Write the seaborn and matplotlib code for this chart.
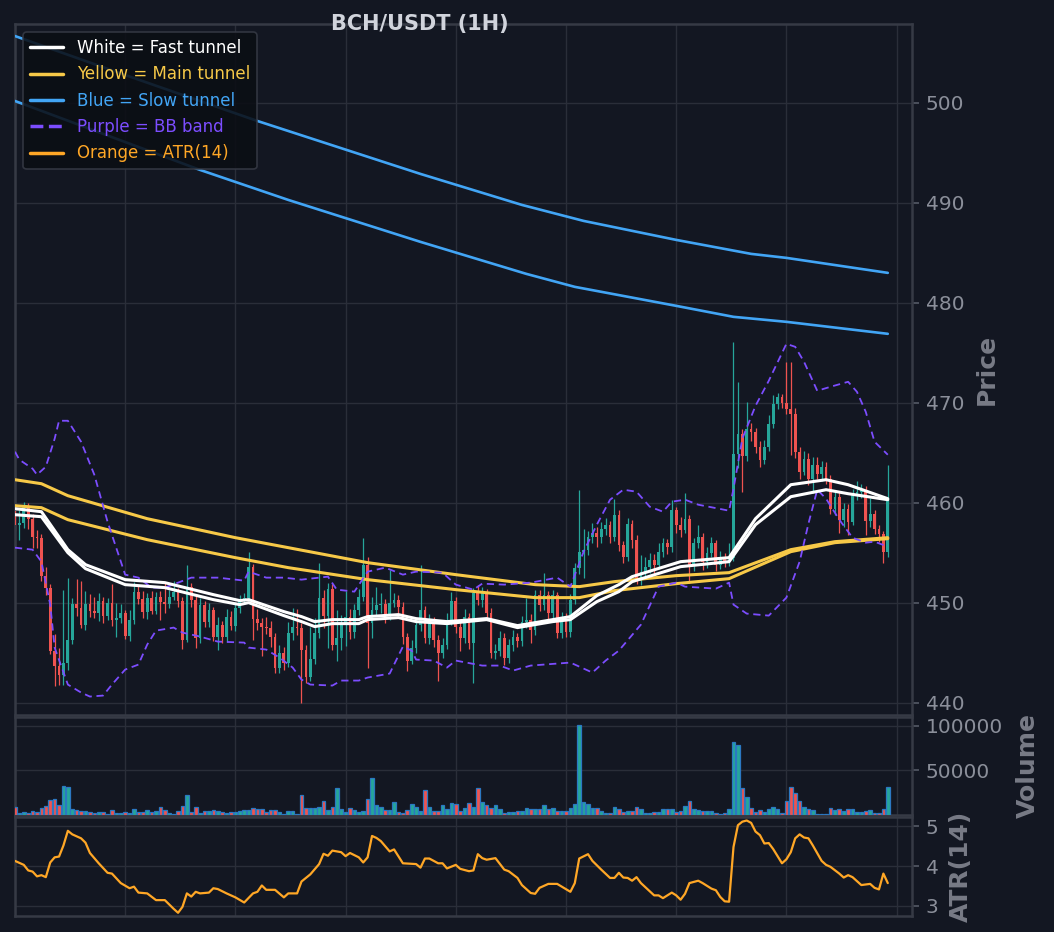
import matplotlib
matplotlib.use("Agg")
import matplotlib.pyplot as plt
from matplotlib.lines import Line2D
import seaborn as sns

# ---- data (hourly candles, index 0..198) ----
first_open = 459.2
close = [
    457.8, 458.0, 459.6, 458.4, 456.6, 456.5, 452.7, 451.5, 445.2, 443.7,
    442.8, 444.0, 446.3, 449.9, 449.5, 447.8, 449.9, 449.2, 449.0, 450.2,
    448.7, 450.0, 448.3, 448.5, 449.0, 446.7, 448.3, 451.1, 450.4, 449.1,
    450.5, 449.2, 450.6, 450.1, 449.9, 450.6, 451.1, 450.2, 446.3, 451.6,
    450.3, 446.5, 449.8, 448.1, 449.3, 446.6, 447.8, 446.6, 448.6, 447.7,
    449.5, 450.3, 450.5, 453.6, 448.4, 448.0, 447.6, 447.5, 446.6, 443.5,
    445.0, 444.0, 447.0, 447.6, 447.5, 445.3, 442.6, 444.4, 447.0, 450.5,
    448.7, 451.4, 445.8, 446.5, 448.0, 448.6, 447.1, 449.3, 450.6, 453.8,
    448.0, 449.3, 449.8, 449.9, 448.8, 450.0, 450.3, 449.6, 446.6, 444.2,
    445.5, 447.8, 449.3, 446.5, 448.1, 446.3, 445.0, 445.8, 448.3, 450.2,
    447.6, 446.5, 448.6, 446.0, 451.0, 450.3, 451.0, 449.0, 445.0, 445.2,
    446.5, 444.5, 445.8, 446.6, 446.2, 448.1, 448.3, 447.3, 450.8, 449.8,
    450.8, 449.0, 450.8, 447.0, 448.5, 447.1, 450.3, 453.5, 455.1, 455.3,
    456.6, 457.0, 456.6, 457.4, 457.8, 456.6, 458.8, 455.8, 454.6, 457.9,
    456.3, 452.5, 453.1, 453.6, 454.3, 453.8, 455.1, 456.0, 455.6, 459.3,
    457.8, 457.3, 458.4, 453.8, 456.0, 456.6, 454.1, 455.0, 456.0, 453.8,
    454.6, 454.0, 454.5, 464.9, 466.9, 464.7, 467.4, 467.1, 465.6, 464.3,
    465.6, 467.9, 469.9, 470.6, 470.0, 469.4, 468.9, 465.1, 463.1, 464.4,
    462.4, 463.8, 462.9, 463.6, 462.4, 459.4, 460.6, 458.3, 459.4, 458.1,
    460.8, 461.1, 461.3, 458.2, 458.9, 457.4, 456.9, 455.1, 460.3,
]
high = [
    459.8, 459.3, 460.1, 460.0, 458.9, 457.3, 456.9, 453.6, 451.9, 446.9,
    445.5, 451.3, 452.5, 450.5, 452.4, 452.2, 451.2, 450.9, 450.6, 451.0,
    450.6, 450.5, 451.9, 450.0, 449.9, 449.3, 449.3, 452.1, 451.7, 451.2,
    451.0, 451.2, 451.1, 451.2, 452.1, 451.3, 452.2, 451.5, 450.6, 453.8,
    452.0, 450.7, 450.5, 450.2, 450.0, 449.6, 448.6, 448.2, 449.4, 449.2,
    450.0, 450.8, 451.0, 455.1, 453.9, 449.4, 448.5, 448.6, 448.2, 447.0,
    445.8, 445.6, 448.1, 449.5, 449.4, 448.0, 445.8, 447.6, 448.5, 454.0,
    451.3, 452.0, 451.9, 449.3, 448.8, 451.2, 449.4, 449.9, 451.4, 456.5,
    454.6, 450.6, 451.6, 451.0, 450.4, 453.3, 451.0, 450.8, 450.1, 447.0,
    446.3, 448.5, 453.8, 449.7, 448.9, 448.6, 446.8, 446.5, 449.0, 451.1,
    450.6, 448.2, 449.4, 449.0, 451.5, 451.8, 451.6, 451.4, 449.5, 445.9,
    447.2, 447.0, 446.4, 447.3, 447.0, 448.7, 450.5, 448.9, 451.3, 451.3,
    453.0, 451.2, 451.3, 451.1, 449.1, 449.0, 450.9, 454.0, 461.3, 457.4,
    457.2, 458.0, 457.6, 458.1, 458.5, 458.2, 460.4, 459.3, 456.2, 458.5,
    458.3, 456.8, 454.8, 454.6, 455.0, 454.9, 456.0, 456.5, 456.4, 460.3,
    459.6, 458.6, 461.0, 458.8, 456.5, 457.8, 457.0, 455.6, 456.6, 456.3,
    455.2, 455.0, 456.0, 476.1, 472.1, 467.4, 470.1, 468.0, 467.5, 466.2,
    466.3, 468.8, 470.8, 471.0, 470.9, 474.1, 474.1, 469.5, 465.6, 465.2,
    465.0, 464.6, 464.6, 464.2, 464.1, 462.8, 461.3, 461.2, 460.0, 459.9,
    461.4, 462.2, 461.9, 461.7, 460.5, 459.3, 457.8, 457.2, 463.8,
]
low = [
    457.2, 456.3, 457.5, 457.4, 455.5, 455.5, 452.2, 450.8, 444.9, 441.7,
    441.8, 441.8, 443.3, 445.9, 448.7, 447.5, 447.3, 448.6, 448.5, 448.2,
    448.0, 448.3, 447.7, 446.6, 448.0, 446.4, 446.2, 447.9, 449.9, 448.5,
    448.4, 448.9, 448.9, 448.3, 449.0, 449.5, 450.3, 449.6, 445.4, 446.1,
    449.6, 445.5, 446.0, 447.6, 447.6, 446.2, 445.3, 446.0, 446.1, 447.3,
    447.2, 449.0, 449.9, 450.2, 446.3, 447.3, 444.7, 446.9, 445.6, 443.0,
    443.0, 443.3, 443.6, 446.3, 446.8, 440.0, 442.0, 442.2, 443.9, 446.5,
    447.5, 445.5, 445.3, 444.2, 445.3, 445.7, 446.4, 446.5, 448.8, 450.2,
    443.5, 446.5, 448.7, 449.0, 448.0, 448.3, 449.6, 449.0, 445.9, 443.2,
    443.9, 445.0, 447.2, 446.0, 445.9, 445.6, 442.2, 444.5, 445.4, 447.8,
    447.0, 445.2, 446.0, 445.4, 442.0, 449.8, 449.6, 448.5, 444.5, 444.4,
    444.7, 443.8, 444.0, 445.2, 445.6, 445.7, 447.5, 446.0, 446.8, 449.2,
    449.3, 448.3, 448.4, 446.5, 446.5, 446.6, 446.6, 449.9, 452.9, 452.5,
    454.8, 456.0, 455.6, 456.0, 456.8, 456.0, 456.2, 455.2, 454.0, 454.2,
    455.5, 451.9, 451.8, 452.6, 453.0, 453.0, 453.4, 454.6, 454.9, 455.1,
    457.0, 456.6, 457.0, 452.0, 453.2, 455.5, 453.3, 453.5, 454.6, 453.2,
    453.4, 453.6, 453.7, 454.2, 463.5, 461.1, 464.2, 466.2, 465.0, 463.6,
    463.9, 465.2, 467.5, 469.4, 469.5, 468.9, 464.8, 464.5, 462.4, 462.8,
    461.8, 461.0, 462.4, 462.2, 461.9, 458.9, 458.8, 457.0, 457.6, 456.8,
    457.8, 460.3, 460.5, 456.8, 457.6, 456.9, 456.1, 454.0, 454.6,
]
volume = [
    9250, 3000, 3700, 3000, 4800, 3700, 7800, 10400, 17000, 18100,
    11100, 32600, 31500, 7000, 5900, 5200, 5200, 3700, 2600, 3700,
    3700, 1500, 5900, 3000, 3000, 3700, 2200, 7000, 3300, 3300,
    5900, 3700, 5200, 9250, 5500, 2200, 1100, 4400, 10400, 22600,
    4100, 9250, 2200, 4400, 4400, 5500, 4800, 3300, 3000, 3300,
    3300, 4400, 5500, 5900, 8500, 6700, 6700, 3300, 5900, 5900,
    3300, 1800, 4800, 4800, 1800, 22600, 8500, 8500, 8500, 9600,
    15900, 5900, 9600, 30700, 7400, 3700, 8500, 5900, 3700, 4800,
    18500, 41800, 11500, 9600, 5900, 5900, 14800, 3700, 2600, 5900,
    12900, 9600, 4800, 28100, 9600, 4800, 4800, 11500, 7400, 13700,
    12200, 4800, 7800, 13300, 9600, 30700, 14800, 11500, 7800, 11500,
    6700, 3000, 3700, 3700, 4800, 4800, 7800, 6700, 7400, 6700,
    11500, 6700, 8500, 4800, 4800, 4800, 8000, 12900, 100300, 14800,
    12900, 8500, 8500, 4800, 3000, 3000, 9600, 7400, 3700, 4800,
    4800, 9600, 6700, 3000, 3000, 3700, 3700, 6700, 7400, 7400,
    3700, 4800, 10400, 15900, 7400, 5900, 4800, 4800, 4800, 2200,
    1800, 2200, 7400, 81800, 78100, 30000, 20400, 7800, 4100, 5500,
    4100, 6700, 9250, 6700, 3000, 15900, 31500, 24800, 15900, 9250,
    6700, 5500, 1800, 1800, 1800, 7800, 5500, 7400, 4800, 7400,
    7400, 3300, 3300, 4400, 5500, 3000, 3000, 7400, 31500,
]

atr_idx = [
    0, 2, 3, 4, 5, 6, 7, 8, 9, 10, 11, 12, 13, 15, 16, 17, 19, 21, 22, 24,
    26, 27, 28, 30, 32, 34, 36, 37, 38, 39, 40, 41, 42, 44, 45, 46, 48, 50, 52, 54,
    55, 56, 57, 59, 61, 62, 64, 65, 67, 69, 70, 71, 72, 74, 75, 76, 78, 79, 80, 81,
    82, 83, 85, 86, 88, 91, 92, 93, 94, 96, 97, 98, 100, 101, 103, 104, 105, 106, 107, 109,
    111, 112, 114, 115, 117, 118, 119, 121, 123, 126, 127, 128, 130, 131, 133, 135, 136, 137, 138, 139,
    140, 141, 142, 145, 146, 147, 149, 150, 151, 152, 153, 155, 156, 158, 159, 160, 161, 162, 163, 164,
    165, 166, 167, 168, 169, 170, 171, 172, 174, 175, 176, 177, 178, 179, 180, 181, 183, 184, 185, 187,
    188, 189, 190, 192, 194, 195, 196, 197, 198,
]
atr_val = [
    4.13, 4.03, 3.89, 3.86, 3.74, 3.77, 3.72, 4.09, 4.22, 4.24, 4.52, 4.89, 4.80, 4.70, 4.59, 4.33, 4.07, 3.83, 3.81, 3.57,
    3.44, 3.48, 3.33, 3.31, 3.14, 3.14, 2.92, 2.82, 2.97, 3.31, 3.23, 3.35, 3.31, 3.33, 3.44, 3.42, 3.31, 3.21, 3.08, 3.31,
    3.35, 3.51, 3.40, 3.40, 3.21, 3.31, 3.31, 3.61, 3.79, 4.05, 4.31, 4.26, 4.39, 4.35, 4.25, 4.33, 4.22, 4.09, 4.22, 4.76,
    4.71, 4.63, 4.37, 4.42, 4.07, 4.05, 3.96, 4.19, 4.19, 4.07, 4.07, 3.94, 4.03, 3.93, 3.87, 3.89, 4.30, 4.20, 4.16, 4.20,
    3.91, 3.87, 3.70, 3.52, 3.32, 3.30, 3.45, 3.55, 3.55, 3.35, 3.57, 4.19, 4.30, 4.13, 3.91, 3.70, 3.70, 3.83, 3.71, 3.70,
    3.63, 3.72, 3.57, 3.26, 3.26, 3.19, 3.33, 3.26, 3.15, 3.30, 3.57, 3.63, 3.57, 3.43, 3.39, 3.22, 3.11, 3.10, 4.48, 5.03,
    5.12, 5.15, 5.09, 4.87, 4.78, 4.57, 4.58, 4.43, 4.07, 4.17, 4.35, 4.70, 4.80, 4.72, 4.70, 4.52, 4.13, 4.03, 3.98, 3.81,
    3.71, 3.77, 3.72, 3.52, 3.55, 3.45, 3.41, 3.81, 3.57,
]

fast_idx = [0, 6, 12, 16, 25, 34, 45, 51, 53, 61, 65, 68, 72, 78, 80, 87, 91, 98, 107, 114,
            122, 126, 132, 137, 140, 151, 162, 168, 176, 184, 189, 198]
fast_hi = [459.4, 459.1, 455.3, 453.8, 452.3, 452.0, 450.8, 450.2, 450.3, 449.1, 448.6, 448.1,
           448.3, 448.3, 448.6, 448.8, 448.4, 448.1, 448.4, 447.7, 448.3, 448.6, 450.7, 451.8,
           452.6, 454.1, 454.5, 458.4, 461.8, 462.3, 461.8, 460.4]
fast_lo = [458.8, 458.6, 455.0, 453.4, 451.8, 451.5, 450.3, 449.8, 450.0, 448.7, 448.1, 447.6,
           447.9, 447.9, 448.3, 448.5, 448.1, 447.9, 448.3, 447.5, 448.1, 448.3, 450.1, 451.1,
           452.1, 453.6, 454.1, 457.8, 460.6, 461.3, 460.9, 460.3]

main_idx = [0, 6, 12, 30, 50, 62, 80, 100, 118, 128, 136, 150, 162, 176, 186, 198]
main_hi = [462.3, 461.9, 460.7, 458.4, 456.5, 455.5, 454.0, 452.8, 451.8, 451.6, 452.1, 452.7,
           453.0, 455.3, 456.1, 456.5]
main_lo = [459.7, 459.5, 458.3, 456.3, 454.5, 453.5, 452.3, 451.3, 450.5, 450.5, 451.2, 451.9,
           452.4, 455.1, 456.0, 456.4]

slow_hi_idx = [0, 25, 55, 92, 115, 129, 150, 167, 175, 198]
slow_hi = [506.7, 502.8, 498.2, 492.9, 489.8, 488.2, 486.3, 484.9, 484.5, 483.0]
slow_lo_idx = [0, 42, 62, 92, 116, 127, 150, 163, 175, 198]
slow_lo = [500.2, 493.3, 490.3, 486.1, 482.9, 481.6, 479.7, 478.6, 478.1, 476.9]

bb_up_idx = [0, 1, 4, 5, 7, 9, 10, 12, 15, 18, 21, 25, 28, 31, 34, 40, 46, 52, 53, 57,
             61, 65, 69, 71, 73, 77, 80, 84, 88, 91, 97, 100, 104, 106, 111, 117, 123, 126, 129, 132,
             135, 138, 141, 144, 147, 149, 152, 155, 162, 163, 165, 168, 171, 175, 177, 179, 182, 185, 189, 191,
             193, 195, 198]
bb_up = [465.1, 464.3, 463.4, 462.8, 463.6, 466.4, 468.2, 468.2, 466.1, 462.8, 458.1, 452.8, 452.5,
         451.5, 451.5, 452.5, 452.5, 452.2, 453.1, 452.5, 452.5, 452.3, 452.5, 452.6, 451.3, 451.1,
         453.1, 453.5, 452.8, 453.1, 453.0, 451.8, 451.3, 451.9, 451.8, 452.0, 452.5, 451.6, 455.1,
         457.8, 460.3, 461.3, 461.1, 459.6, 459.1, 460.1, 460.3, 459.8, 459.2, 461.4, 466.4, 469.7,
         472.2, 475.9, 475.6, 474.1, 471.2, 471.6, 472.1, 471.1, 469.1, 466.1, 464.8]

bb_lo_idx = [0, 4, 6, 8, 9, 12, 15, 17, 20, 22, 25, 28, 30, 32, 36, 38, 42, 46, 52, 53,
             57, 60, 63, 65, 67, 72, 74, 78, 80, 85, 88, 90, 91, 95, 98, 100, 106, 110, 113, 117,
             126, 131, 134, 137, 142, 146, 150, 152, 159, 162, 163, 166, 171, 175, 178, 180, 182, 184, 187, 190,
             193, 195, 198]
bb_lo = [455.5, 455.3, 454.1, 449.8, 445.5, 441.8, 441.0, 440.6, 440.7, 441.8, 443.3, 443.8, 445.8,
         447.2, 447.5, 447.0, 446.6, 446.1, 446.0, 445.5, 445.3, 444.5, 443.5, 442.3, 441.8, 441.7,
         442.2, 442.2, 442.5, 442.9, 445.6, 445.2, 444.3, 444.2, 443.5, 444.2, 443.7, 443.7, 443.2,
         443.7, 444.0, 443.0, 444.2, 445.2, 447.8, 451.6, 452.0, 451.6, 451.4, 452.0, 449.8, 448.9,
         448.7, 450.5, 454.1, 457.9, 461.3, 460.4, 458.3, 456.5, 456.0, 456.1, 455.6]

BG = "#131722"
GRID = "#2a2e39"
SPINE = "#363a45"
TICK = "#8b8f9a"
LABEL = "#787b86"
UP = "#26a69a"
DOWN = "#ef5350"
C_FAST = "#ffffff"
C_MAIN = "#f7c948"
C_SLOW = "#42a5f5"
C_BB = "#7c4dff"
C_ATR = "#ffa726"

sns.set_theme(
    style="darkgrid",
    rc={
        "figure.facecolor": BG,
        "axes.facecolor": BG,
        "axes.edgecolor": SPINE,
        "axes.linewidth": 1.8,
        "grid.color": GRID,
        "grid.linewidth": 1.0,
        "text.color": "#d1d4dc",
        "axes.labelcolor": LABEL,
        "xtick.color": TICK,
        "ytick.color": TICK,
    },
)
plt.rcParams["font.family"] = ["DejaVu Sans"]

fig, (ax, axv, axa) = plt.subplots(
    3, 1, figsize=(10.54, 9.32), dpi=100, sharex=True,
    gridspec_kw={"height_ratios": [7, 1, 1], "hspace": 0.007,
                 "left": 0.0142, "right": 0.8653, "top": 0.9742, "bottom": 0.0172},
)

xs = list(range(len(close)))
opens = [first_open] + close[:-1]
colors = [UP if c >= o else DOWN for o, c in zip(opens, close)]
body_lo = [min(o, c) for o, c in zip(opens, close)]
body_h = [max(abs(c - o), 0.08) for o, c in zip(opens, close)]

# candles
ax.vlines(xs, low, high, colors=colors, linewidth=0.9, zorder=2)
ax.bar(xs, body_h, bottom=body_lo, width=0.62, color=colors, linewidth=0, zorder=3)

# tunnels and bands
sns.lineplot(x=slow_hi_idx, y=slow_hi, color=C_SLOW, linewidth=1.9, ax=ax, zorder=4)
sns.lineplot(x=slow_lo_idx, y=slow_lo, color=C_SLOW, linewidth=1.9, ax=ax, zorder=4)
for yv in (main_hi, main_lo):
    sns.lineplot(x=main_idx, y=yv, color=C_MAIN, linewidth=2.2, ax=ax, zorder=5)
for yv in (fast_hi, fast_lo):
    sns.lineplot(x=fast_idx, y=yv, color=C_FAST, linewidth=2.2, ax=ax, zorder=6)
sns.lineplot(x=bb_up_idx, y=bb_up, color=C_BB, linewidth=1.3, linestyle=(0, (4, 2.6)), ax=ax, zorder=5)
sns.lineplot(x=bb_lo_idx, y=bb_lo, color=C_BB, linewidth=1.3, linestyle=(0, (4, 2.6)), ax=ax, zorder=5)

# volume
axv.bar(xs, volume, width=0.82, color=colors, edgecolor="#2b78c2", linewidth=0.9, zorder=3)

# ATR
sns.lineplot(x=atr_idx, y=atr_val, color=C_ATR, linewidth=1.6, ax=axa, zorder=3)

ax.set_xlim(0, 203.5)
ax.set_ylim(438.8, 507.9)
axv.set_ylim(0, 110000)
axa.set_ylim(2.74, 5.23)

ax.set_yticks([440, 450, 460, 470, 480, 490, 500])
axv.set_yticks([50000, 100000])
axa.set_yticks([3, 4, 5])
axa.set_xticks(range(0, 201, 25))

for a, lab, lp in ((ax, "Price", 7.5), (axv, "Volume", 9.5), (axa, "ATR(14)", 7.0)):
    a.yaxis.tick_right()
    a.yaxis.set_label_position("right")
    a.set_ylabel(lab, fontsize=18, fontweight="bold", color=LABEL, labelpad=lp)
    a.tick_params(axis="y", labelsize=14.5, length=5, width=1.2, pad=5,
                  color="#555a66", labelcolor=TICK)
    a.tick_params(axis="x", length=0, labelbottom=False)
    a.set_xlabel("")
    a.grid(True, color=GRID, linewidth=1.0)
    for s in a.spines.values():
        s.set_color(SPINE)
        s.set_linewidth(1.8)

handles = [
    Line2D([], [], color=C_FAST, linewidth=2.5),
    Line2D([], [], color=C_MAIN, linewidth=2.5),
    Line2D([], [], color=C_SLOW, linewidth=2.5),
    Line2D([], [], color=C_BB, linewidth=2.5, linestyle="--"),
    Line2D([], [], color=C_ATR, linewidth=2.5),
]
labels = ["White = Fast tunnel", "Yellow = Main tunnel", "Blue = Slow tunnel",
          "Purple = BB band", "Orange = ATR(14)"]
leg = ax.legend(handles, labels, loc="upper left", fontsize=12, labelcolor="linecolor",
                facecolor="#0b0e14", edgecolor=SPINE, framealpha=0.88, fancybox=True)
leg.get_frame().set_linewidth(1.2)
leg.set_zorder(10)

fig.text(0.3985, 0.9742, "BCH/USDT (1H)", ha="center", va="center", fontsize=15,
         fontweight="bold", color="#d1d4dc")

fig.savefig("out.png", dpi=100, facecolor=BG)
